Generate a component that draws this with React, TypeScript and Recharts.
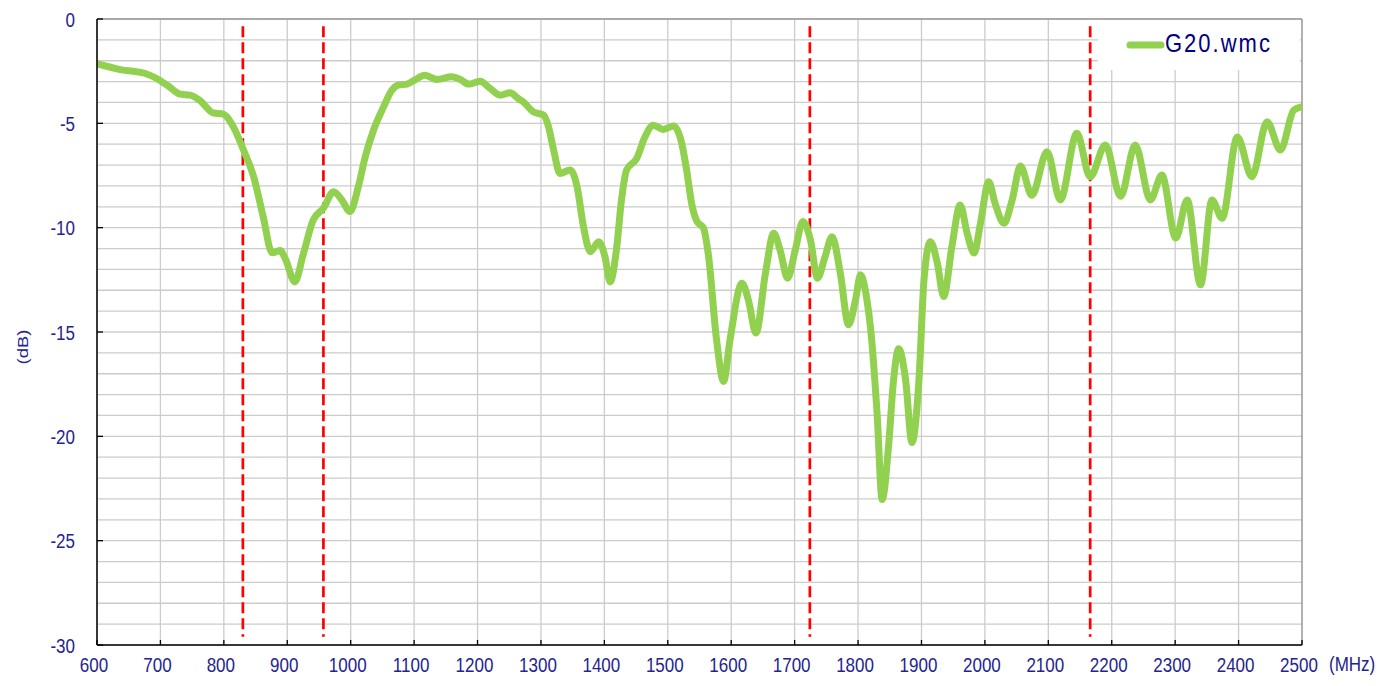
import React from 'react';
import { LineChart, Line, XAxis, YAxis, CartesianGrid, ReferenceLine, Legend } from 'recharts';

const freqMHz = [
  600, 620, 641, 657, 675, 694, 712, 731, 747, 762, 783, 799, 815, 831, 847, 862, 876, 889, 897, 912,
  925, 941, 957, 973, 986, 999, 1012, 1023, 1036, 1052, 1065, 1075, 1089, 1102, 1117, 1136, 1159, 1173, 1186, 1204,
  1220, 1236, 1251, 1264, 1272, 1288, 1304, 1312, 1320, 1330, 1346, 1357, 1367, 1378, 1391, 1401, 1409, 1419, 1427, 1435,
  1451, 1464, 1477, 1493, 1509, 1522, 1530, 1538, 1546, 1556, 1564, 1577, 1588, 1598, 1617, 1627, 1639, 1654, 1667, 1677,
  1689, 1701, 1713, 1725, 1736, 1748, 1759, 1772, 1785, 1796, 1804, 1814, 1820, 1830, 1838, 1848, 1856, 1864, 1875, 1885,
  1896, 1904, 1914, 1925, 1935, 1948, 1961, 1972, 1983, 1993, 2006, 2016, 2030, 2043, 2056, 2074, 2098, 2119, 2145, 2166,
  2190, 2214, 2237, 2261, 2279, 2301, 2319, 2340, 2358, 2374, 2398, 2421, 2445, 2466, 2487, 2500,
];

const gainDb = [
  -2.15, -2.3, -2.45, -2.5, -2.6, -2.85, -3.2, -3.6, -3.65, -3.9, -4.5, -4.56, -5.17, -6.28, -7.56, -9.47, -11.2, -11.1, -11.5, -12.6,
  -11.3, -9.63, -9.07, -8.28, -8.67, -9.23, -8.04, -6.6, -5.33, -4.2, -3.41, -3.17, -3.12, -2.9, -2.69, -2.9, -2.77, -2.9, -3.12, -2.98,
  -3.33, -3.65, -3.54, -3.81, -3.97, -4.45, -4.6, -5.17, -6.28, -7.4, -7.24, -8.04, -9.95, -11.15, -10.67, -11.4, -12.6, -11.07, -8.67, -7.24,
  -6.68, -5.65, -5.09, -5.29, -5.13, -5.96, -7.3, -8.9, -9.7, -10.0, -11.3, -15.4, -17.37, -15.4, -12.66, -13.46, -15.05, -12.18, -10.27, -11.07,
  -12.42, -11.07, -9.71, -10.6, -12.42, -11.39, -10.43, -12.18, -14.65, -13.46, -12.26, -13.46, -14.9, -18.9, -23.03, -20.5, -17.3, -15.8, -17.3, -20.3,
  -17.3, -12.5, -10.67, -11.7, -13.3, -10.9, -8.91, -10.27, -11.22, -9.79, -7.8, -8.83, -9.79, -8.67, -7.05, -8.45, -6.36, -8.67, -5.48, -7.56,
  -6.04, -8.5, -6.04, -8.67, -7.48, -10.5, -8.67, -12.74, -8.67, -9.55, -5.65, -7.56, -4.93, -6.28, -4.37, -4.2,
];

const xTicks = [600, 700, 800, 900, 1000, 1100, 1200, 1300, 1400, 1500, 1600, 1700, 1800, 1900, 2000, 2100, 2200, 2300, 2400, 2500];
const yTicks = [
  -30, -29, -28, -27, -26, -25, -24, -23, -22, -21, -20, -19, -18, -17, -16, -15,
  -14, -13, -12, -11, -10, -9, -8, -7, -6, -5, -4, -3, -2, -1, 0,
];
const yLabelTicks = [-30, -25, -20, -15, -10, -5, 0];
const markerFreqs = [830, 957, 1724, 2166];
const markerTop = -0.35;
const markerBottom = -29.6;
const seriesName = 'G20.wmc';
const xUnit = '(MHz)';
const yUnit = '(dB)';

const data = freqMHz.map((f, i) => ({ f, v: gainDb[i] }));

const TEXT = '#24248f';
const FONT = '"Liberation Sans", Arial, sans-serif';
const GREEN = '#92D050';

function XTick(props: any) {
  const { x, y, payload } = props;
  return (
    <g>
      <line x1={x} x2={x} y1={y} y2={y - 5} stroke="#000" strokeWidth={1.3} />
      <text
        transform={`translate(${x - 3},${y + 27}) scale(1,1.23)`}
        textAnchor="middle"
        fontSize={17}
        fill={TEXT}
        fontFamily={FONT}
      >
        {payload.value}
      </text>
    </g>
  );
}

function YTick(props: any) {
  const { x, y, payload } = props;
  if (!yLabelTicks.includes(payload.value)) return <g />;
  return (
    <g>
      <line x1={x} x2={x + 6} y1={y} y2={y} stroke="#000" strokeWidth={1.3} />
      <text
        transform={`translate(${x - 22},${y + 7.5}) scale(1,1.23)`}
        textAnchor="end"
        fontSize={17}
        fill={TEXT}
        fontFamily={FONT}
      >
        {payload.value}
      </text>
    </g>
  );
}

function LegendBox() {
  return (
    <div style={{ width: 202, height: 50, background: '#fff', position: 'relative' }}>
      <svg width={202} height={50} style={{ position: 'absolute', left: 0, top: 0 }}>
        <line x1={32} x2={63} y1={25} y2={25} stroke={GREEN} strokeWidth={7} strokeLinecap="round" />
      </svg>
      <div
        style={{
          position: 'absolute',
          left: 67,
          top: 11,
          fontFamily: FONT,
          fontSize: 22,
          color: '#000080',
          lineHeight: '26px',
          transform: 'scaleY(1.15)',
          transformOrigin: 'left center',
          whiteSpace: 'nowrap',
          letterSpacing: 2,
        }}
      >
        {seriesName}
      </div>
    </div>
  );
}

export default function App() {
  return (
    <div style={{ position: 'absolute', left: 0, top: 0, width: 1398, height: 686, background: '#fff' }}>
      <LineChart width={1398} height={686} data={data} margin={{ top: 19, right: 96, left: 37, bottom: 11 }}>
        <CartesianGrid stroke="#cccccc" strokeWidth={1.3} />
        <XAxis
          dataKey="f"
          type="number"
          domain={[600, 2500]}
          ticks={xTicks}
          interval={0}
          tickSize={0}
          tickMargin={0}
          tickLine={false}
          height={30}
          stroke="#000"
          strokeWidth={1.5}
          tick={<XTick />}
          allowDataOverflow
        />
        <YAxis
          type="number"
          domain={[-30, 0]}
          ticks={yTicks}
          interval={0}
          tickSize={0}
          tickMargin={0}
          tickLine={false}
          width={60}
          stroke="#000"
          strokeWidth={1.5}
          tick={<YTick />}
          allowDataOverflow
        />
        <ReferenceLine y={0} stroke="#999" strokeWidth={1.3} />
        <ReferenceLine x={2500} stroke="#999" strokeWidth={1.3} />
        {markerFreqs.map((m) => (
          <ReferenceLine
            key={m}
            segment={[{ x: m, y: markerTop }, { x: m, y: markerBottom }]}
            stroke="#ff0000"
            strokeWidth={2.7}
            strokeDasharray="11 5"
          />
        ))}
        <Line
          type="monotone"
          dataKey="v"
          name={seriesName}
          stroke={GREEN}
          strokeWidth={7}
          dot={false}
          activeDot={false}
          isAnimationActive={false}
          strokeLinejoin="round"
          strokeLinecap="round"
        />
        <Legend
          layout="horizontal"
          verticalAlign="middle"
          align="center"
          content={() => <LegendBox />}
          wrapperStyle={{ position: 'absolute', left: 1098, top: 20, width: 202, height: 50 }}
        />
      </LineChart>
      <div
        style={{
          position: 'absolute',
          left: 1329,
          top: 653,
          fontFamily: FONT,
          fontSize: 17,
          color: TEXT,
          lineHeight: '24px',
          transform: 'scaleY(1.23)',
          transformOrigin: 'left center',
          whiteSpace: 'nowrap',
        }}
      >
        {xUnit}
      </div>
      <div
        style={{
          position: 'absolute',
          left: 22,
          top: 347,
          fontFamily: FONT,
          fontSize: 15,
          color: TEXT,
          whiteSpace: 'nowrap',
          transform: 'translate(-50%,-50%) rotate(-90deg) scaleX(1.23)',
        }}
      >
        {yUnit}
      </div>
    </div>
  );
}
